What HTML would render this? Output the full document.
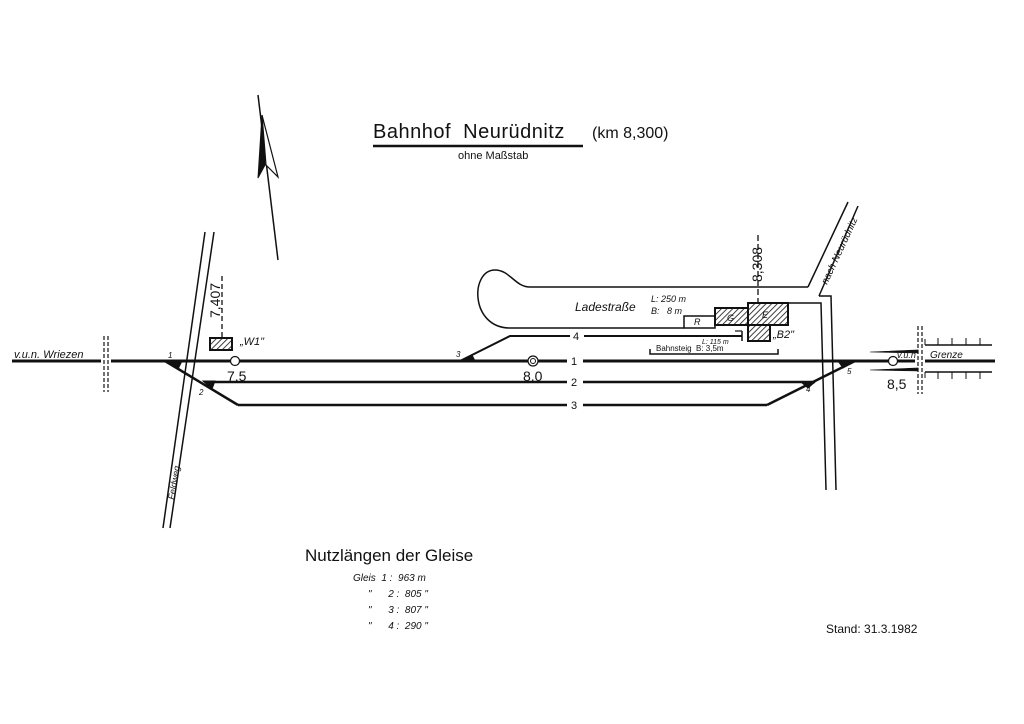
<!DOCTYPE html>
<html><head><meta charset="utf-8"><style>
html,body{margin:0;padding:0;background:#fff;}
svg{display:block;}
text{font-family:"Liberation Sans","DejaVu Sans",sans-serif;fill:#111;white-space:pre;}
.i{font-style:italic;}
</style></head><body>
<svg width="1024" height="724" viewBox="0 0 1024 724" xmlns="http://www.w3.org/2000/svg">
<defs>
<pattern id="h" width="4" height="4" patternUnits="userSpaceOnUse" patternTransform="rotate(45)">
<rect width="4" height="4" fill="#fff"/><line x1="0" y1="0" x2="0" y2="4" stroke="#111" stroke-width="1.6"/>
</pattern>
</defs>
<g stroke="#111" fill="none">
<line x1="373" y1="146" x2="583" y2="146" stroke-width="2.5"/>
<line x1="258" y1="95" x2="278" y2="260" stroke-width="1.5"/>
<polygon points="262,115 258,178 265,165" fill="#111" stroke-width="1"/>
<polygon points="262,115 278,177 266,165" fill="#fff" stroke-width="1.2"/>
<line x1="12" y1="361" x2="995" y2="361" stroke-width="3"/>
<line x1="205" y1="382" x2="815" y2="382" stroke-width="2.5"/>
<line x1="238" y1="405" x2="767" y2="405" stroke-width="2.5"/>
<line x1="165" y1="361" x2="238" y2="405" stroke-width="2.5"/>
<line x1="855" y1="361" x2="767" y2="405" stroke-width="2.5"/>
<polyline points="460,361 510,336 742,336" stroke-width="2"/>
<line x1="742" y1="331" x2="742" y2="341" stroke-width="1.5"/>
<line x1="735" y1="331" x2="742" y2="331" stroke-width="1.2"/>
<polygon points="165,361 182,361 178,369" fill="#111" stroke-width="1"/>
<polygon points="203,381 215,381 212,389" fill="#111" stroke-width="1"/>
<polygon points="460,361 475,361 472,355" fill="#111" stroke-width="1"/>
<polygon points="855,361 838,361 843,368" fill="#111" stroke-width="1"/>
<polygon points="815,382 801,382 808,388" fill="#111" stroke-width="1"/>
<rect x="567" y="355" width="16" height="12" fill="#fff" stroke="none"/>
<rect x="567" y="376" width="16" height="12" fill="#fff" stroke="none"/>
<rect x="567" y="399" width="16" height="12" fill="#fff" stroke="none"/>
<rect x="570" y="330" width="14" height="12" fill="#fff" stroke="none"/>
<rect x="101" y="336" width="10" height="56" fill="#fff" stroke="none"/>
<line x1="104" y1="336" x2="104" y2="392" stroke-width="1.2" stroke-dasharray="4,2"/>
<line x1="108" y1="336" x2="108" y2="392" stroke-width="1.2" stroke-dasharray="4,2"/>
<line x1="205" y1="232" x2="163" y2="528" stroke-width="1.5"/>
<line x1="214" y1="232" x2="170" y2="528" stroke-width="1.5"/>
<circle cx="235" cy="361" r="4.5" fill="#fff" stroke-width="1.2"/>
<circle cx="533" cy="361" r="5" fill="#fff" stroke-width="1.2"/>
<circle cx="533" cy="361" r="2.5" fill="#fff" stroke-width="1"/>
<line x1="222" y1="276" x2="222" y2="338" stroke-width="1.3" stroke-dasharray="5,3"/>
<rect x="210" y="338" width="22" height="12" fill="url(#h)" stroke-width="2"/>
<path d="M808,287 L530,287 C515,287 510,270 495,270 C470,270 470,328 510,328 L684,328" stroke-width="1.5"/>
<path d="M808,287 L848,202" stroke-width="1.5"/>
<path d="M819,296 L858,206" stroke-width="1.5"/>
<path d="M788,303 L821,303 L826,490" stroke-width="1.5"/>
<path d="M819,296 L831,296 L836,490" stroke-width="1.5"/>
<line x1="758" y1="235" x2="758" y2="303" stroke-width="1.3" stroke-dasharray="6,3"/>
<rect x="684" y="316" width="31" height="12" fill="#fff" stroke-width="1.5"/>
<rect x="715" y="308" width="33" height="17" fill="url(#h)" stroke-width="2"/>
<rect x="748" y="303" width="40" height="22" fill="url(#h)" stroke-width="2"/>
<rect x="748" y="325" width="22" height="16" fill="url(#h)" stroke-width="2"/>
<polyline points="650,349 650,354 778,354 778,349" stroke-width="1.5"/>
<rect x="915" y="326" width="10" height="68" fill="#fff" stroke="none"/>
<line x1="918" y1="326" x2="918" y2="394" stroke-width="1.2" stroke-dasharray="4,2"/>
<line x1="922" y1="326" x2="922" y2="394" stroke-width="1.2" stroke-dasharray="4,2"/>
<line x1="925" y1="345" x2="992" y2="345" stroke-width="1.5"/>
<line x1="925" y1="372" x2="992" y2="372" stroke-width="1.5"/>
<path d="M938,345v-7 M952,345v-7 M966,345v-7 M980,345v-7 M938,372v7 M952,372v7 M966,372v7 M980,372v7 M925,345v-6 M925,372v6" stroke-width="1"/>
<polygon points="870,352 918,350 918,353" fill="#111" stroke-width="0.6"/>
<polygon points="870,370 918,368 918,371" fill="#111" stroke-width="0.6"/>
<circle cx="893" cy="361" r="4.5" fill="#fff" stroke-width="1.2"/>
</g>
<text x="373" y="138" font-size="20" letter-spacing="0.5">Bahnhof  Neurüdnitz</text>
<text x="592" y="138" font-size="16">(km 8,300)</text>
<text x="458" y="159" font-size="11">ohne Maßstab</text>
<text x="14" y="358" font-size="11" class="i">v.u.n. Wriezen</text>
<text x="168" y="358" font-size="8" class="i">1</text>
<text x="199" y="395" font-size="8" class="i">2</text>
<text x="456" y="357" font-size="8" class="i">3</text>
<text x="806" y="392" font-size="8" class="i">4</text>
<text x="847" y="374" font-size="8" class="i">5</text>
<text x="571" y="365" font-size="11">1</text>
<text x="571" y="386" font-size="11">2</text>
<text x="571" y="409" font-size="11">3</text>
<text x="573" y="340" font-size="11">4</text>
<text x="227" y="381" font-size="14">7,5</text>
<text x="523" y="381" font-size="14">8,0</text>
<text x="887" y="389" font-size="14">8,5</text>
<text x="240" y="345" font-size="11" class="i">„W1"</text>
<text x="0" y="0" font-size="14" transform="translate(220,318) rotate(-90)">7,407</text>
<text x="0" y="0" font-size="14" transform="translate(762,282) rotate(-90)">8,308</text>
<text x="0" y="0" font-size="9" class="i" transform="translate(174,500) rotate(-80)">Feldweg</text>
<text x="0" y="0" font-size="10" class="i" transform="translate(827,285) rotate(-65)">nach Neurüdnitz</text>
<text x="575" y="311" font-size="12" class="i">Ladestraße</text>
<text x="651" y="302" font-size="9" class="i">L: 250 m</text>
<text x="651" y="314" font-size="9" class="i">B:   8 m</text>
<text x="694" y="325" font-size="9" class="i">R</text>
<text x="727" y="321" font-size="9" class="i">G</text>
<text x="762" y="318" font-size="9" class="i">E</text>
<text x="773" y="338" font-size="11" class="i">„B2"</text>
<text x="702" y="344" font-size="7" class="i">L: 115 m</text>
<text x="656" y="351" font-size="8">Bahnsteig  B: 3,5m</text>
<text x="897" y="358" font-size="9" class="i">v.u.n</text>
<text x="930" y="358" font-size="10" class="i">Grenze</text>
<text x="305" y="561" font-size="17">Nutzlängen der Gleise</text>
<text x="353" y="581" font-size="10" class="i">Gleis  1 :  963 m</text>
<text x="368" y="597" font-size="10" class="i">"      2 :  805 "</text>
<text x="368" y="613" font-size="10" class="i">"      3 :  807 "</text>
<text x="368" y="629" font-size="10" class="i">"      4 :  290 "</text>
<text x="826" y="633" font-size="12">Stand: 31.3.1982</text>
</svg>
</body></html>
